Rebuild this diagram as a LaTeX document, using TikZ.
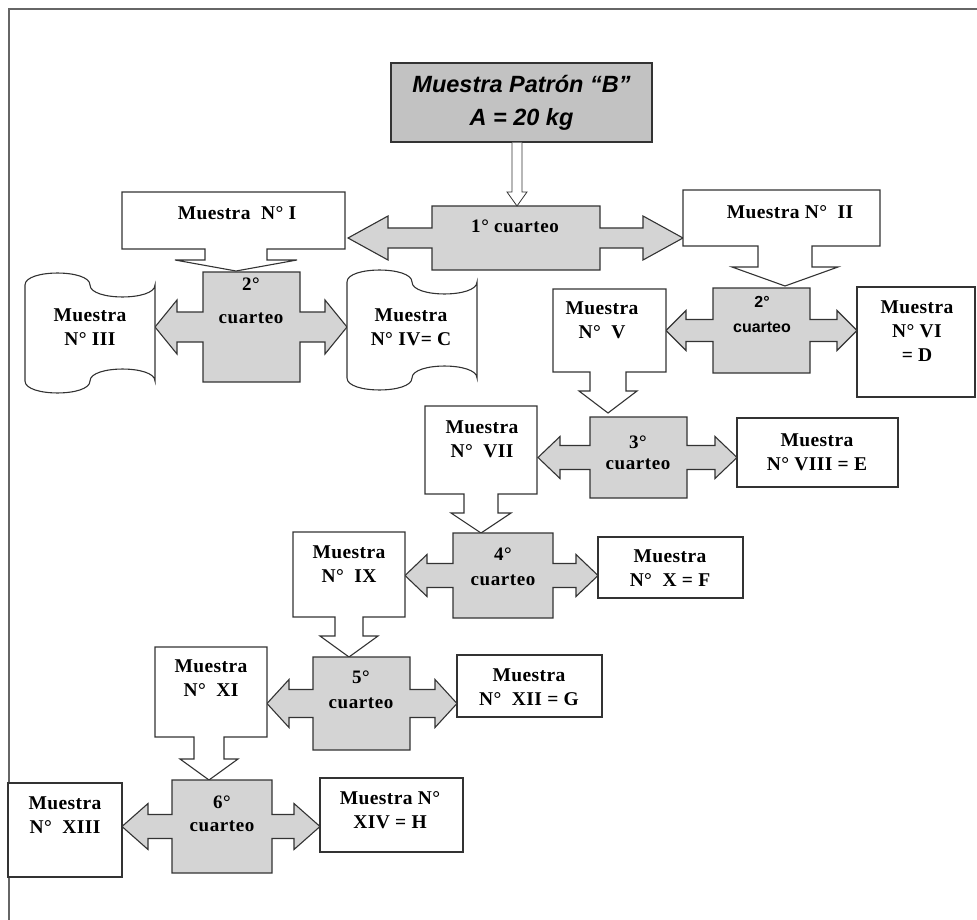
\documentclass[tikz,border=0pt]{standalone}
\usepackage{fontspec}
\setmainfont{Liberation Serif}
\newfontfamily\sansf{Liberation Sans}
\newfontfamily\msf[LetterSpace=2]{Liberation Serif}
\newfontfamily\csf[LetterSpace=3]{Liberation Serif}
\usetikzlibrary{calc}
\tikzset{
 ln/.style={draw=black!80, line width=1.1pt},
 gfill/.style={ln, fill=black!17},
 wfill/.style={ln, fill=white},
 mtext/.style={font=\msf\fontsize{19.5}{24}\selectfont\bfseries, align=center, inner sep=0pt},
 ctext/.style={font=\csf\fontsize{19}{23}\selectfont\bfseries, align=center, inner sep=0pt},
}
\newcommand\LRcall[9]{% x1 x2 y1 y2 xl xr headlen shafthalf headhalf
 \pgfmathsetmacro\cy{(#3+#4)/2}
 \filldraw[gfill] (#1,#3) -- (#2,#3) -- (#2,\cy-#8) -- (#6-#7,\cy-#8) -- (#6-#7,\cy-#9) -- (#6,\cy) -- (#6-#7,\cy+#9) -- (#6-#7,\cy+#8) -- (#2,\cy+#8) -- (#2,#4) -- (#1,#4) -- (#1,\cy+#8) -- (#5+#7,\cy+#8) -- (#5+#7,\cy+#9) -- (#5,\cy) -- (#5+#7,\cy-#9) -- (#5+#7,\cy-#8) -- (#1,\cy-#8) -- cycle;}
\newcommand\Dcall[9]{% x1 x2 y1 y2 tipx shafthalf headhalf heady tipy
 \filldraw[wfill] (#1,#3) -- (#2,#3) -- (#2,#4) -- (#5+#6,#4) -- (#5+#6,#8) -- (#5+#7,#8) -- (#5,#9) -- (#5-#7,#8) -- (#5-#6,#8) -- (#5-#6,#4) -- (#1,#4) -- cycle;}
\newcommand\Tape[4]{% x1 x2 y1 y2
 \pgfmathsetmacro\ta{(#4-#3)/10}
 \pgfmathsetmacro\tm{(#1+#2)/2}
 \filldraw[wfill] (#1,#3+\ta) .. controls (#1,#3-0.33*\ta) and (\tm,#3-0.33*\ta) .. (\tm,#3+\ta)
   .. controls (\tm,#3+2.33*\ta) and (#2,#3+2.33*\ta) .. (#2,#3+\ta) -- (#2,#4-\ta)
   .. controls (#2,#4-2.33*\ta) and (\tm,#4-2.33*\ta) .. (\tm,#4-\ta)
   .. controls (\tm,#4+0.33*\ta) and (#1,#4+0.33*\ta) .. (#1,#4-\ta) -- cycle;}
\begin{document}
\begin{tikzpicture}[x=1pt,y=-1pt]
\useasboundingbox (0,0) rectangle (977,920);
\fill[white] (0,0) rectangle (977,920);
\draw[black!60, line width=1.3pt] (9,920) -- (9,9) -- (977,9);

% top box
\node[ln, fill=black!24, minimum width=261pt, minimum height=79pt, inner sep=0pt,
  font=\sansf\fontsize{23.5}{33}\selectfont\bfseries\itshape, align=center] (top) at (521.5,102.5)
  {Muestra Patrón “B”\\A = 20 kg};

% callouts
\LRcall{432}{600}{206}{270}{348}{683}{40}{10}{22}
\coordinate (c1top) at (517,206);
\coordinate (a0) at (top.south -| c1top);
\draw[ln, line width=0.8pt, fill=white] ($(a0)+(-5,0)$) -- ($(c1top)+(-5,-14)$) -- ($(c1top)+(-10,-14)$) -- (c1top) -- ($(c1top)+(10,-14)$) -- ($(c1top)+(5,-14)$) -- ($(a0)+(5,0)$);

\Dcall{122}{345}{192}{249}{236}{31}{61}{260}{271}
\Dcall{683}{880}{190}{246}{785}{27}{53}{267}{286}
\LRcall{203}{300}{272}{382}{155}{347}{22}{15}{27}
\LRcall{713}{810}{288}{373}{666}{857}{20}{11}{20}
\Tape{25}{155}{273}{393}
\Tape{347}{477}{270}{390}
\Dcall{553}{666}{289}{372}{608}{18}{29}{391}{413}
\draw[wfill] (857,287) rectangle (975,397);
\LRcall{590}{687}{417}{498}{538}{737}{22}{12}{21}
\Dcall{425}{537}{406}{494}{481}{17}{30}{513}{533}
\draw[wfill] (737,418) rectangle (898,487);
\LRcall{453}{553}{533}{618}{405}{598}{22}{12}{21}
\Dcall{293}{405}{532}{617}{349}{14}{29}{636}{657}
\draw[wfill] (598,537) rectangle (743,598);
\LRcall{313}{410}{657}{750}{267}{457}{22}{14}{24}
\Dcall{155}{267}{647}{737}{209}{15}{29}{759}{780}
\draw[wfill] (457,655) rectangle (602,717);
\LRcall{172}{272}{780}{873}{122}{320}{26}{12}{23}
\draw[wfill] (8,783) rectangle (122,877);
\draw[wfill] (320,778) rectangle (463,852);

% texts
\node[mtext] (mI) at (237,213) {Muestra\ \ N° I};
\node[ctext] (c1) at (515,226) {1° cuarteo};
\node[mtext] (mII) at (790,212) {Muestra N°\ \ II};
\node[ctext, font=\csf\fontsize{19}{33}\selectfont\bfseries] (c2a) at (251,301) {2°\\cuarteo};
\node[mtext] (mIII) at (90,327) {Muestra\\N° III};
\node[mtext] (mIV) at (411,327) {Muestra\\N° IV= C};
\node[mtext] (mV) at (602,320) {Muestra\\N°\ \ V};
\node[ctext, font=\sansf\fontsize{16}{25}\selectfont\bfseries] (c2b) at (762,314) {2°\\cuarteo};
\node[mtext] (mVII) at (482,439) {Muestra\\N°\ \ VII};
\node[mtext] (mVI) at (917,331) {Muestra\\N° VI\\= D};
\node[ctext, font=\csf\fontsize{19}{21}\selectfont\bfseries] (c3) at (638,453) {3°\\cuarteo};
\node[mtext] (mVIII) at (817,452) {Muestra\\N° VIII = E};
\node[mtext] (mIX) at (349,564) {Muestra\\N°\ \ IX};
\node[ctext, font=\csf\fontsize{19}{25}\selectfont\bfseries] (c4) at (503,567) {4°\\cuarteo};
\node[mtext] (mX) at (670,568) {Muestra\\N°\ \ X = F};
\node[mtext] (mXI) at (211,678) {Muestra\\N°\ \ XI};
\node[ctext, font=\csf\fontsize{19}{25}\selectfont\bfseries] (c5) at (361,690) {5°\\cuarteo};
\node[mtext] (mXII) at (529,687) {Muestra\\N°\ \ XII = G};
\node[mtext] (mXIII) at (65,815) {Muestra\\N°\ \ XIII};
\node[ctext] (c6) at (222,814) {6°\\cuarteo};
\node[mtext] (mXIV) at (390,810) {Muestra N°\\XIV = H};
\end{tikzpicture}
\end{document}
